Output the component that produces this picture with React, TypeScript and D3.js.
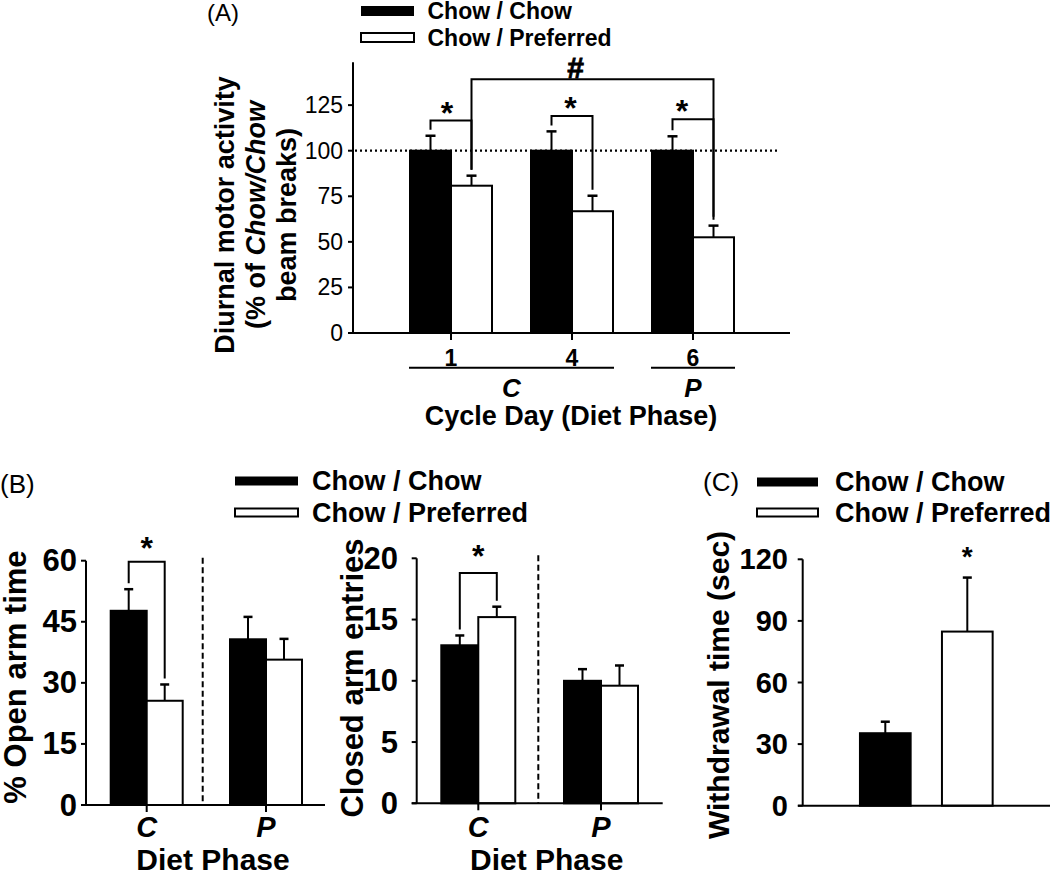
import React from "react";
import * as d3 from "d3";

const FONT = "'Liberation Sans', Arial, Helvetica, sans-serif";

const legendLabels = ["Chow / Chow", "Chow / Preferred"];

// Panel A: diurnal motor activity
const cycleDays = ["1", "4", "6"];
const aChowMean = [100, 100, 100];
const aChowSem = [8.2, 10.6, 7.9];
const aPrefMean = [80.8, 66.8, 52.5];
const aPrefSem = [5.5, 8.5, 6.4];
const aTicks = [0, 25, 50, 75, 100, 125];
const aPhases = [
  { label: "C", from: "1", to: "4" },
  { label: "P", from: "6", to: "6" },
];
// significance brackets (y in data units), star position fraction along bracket
const aBrackets = [
  { day: "1", y: 116.5, frac: 0.4 },
  { day: "4", y: 119, frac: 0.46 },
  { day: "6", y: 117.3, frac: 0.23 },
];
const aHash = { from: "1", to: "6", y: 139.2, frac: 0.43 };

// Panel B: elevated plus maze
const dietPhases = ["C", "P"];
const openChowMean = [47.7, 40.7];
const openChowSem = [5.3, 5.5];
const openPrefMean = [25.6, 35.7];
const openPrefSem = [4.0, 5.1];
const openTicks = [0, 15, 30, 45, 60];
const closedChowMean = [12.9, 10.0];
const closedChowSem = [0.8, 0.95];
const closedPrefMean = [15.2, 9.6];
const closedPrefSem = [0.85, 1.65];
const closedTicks = [0, 5, 10, 15, 20];

// Panel C: withdrawal time
const withdrawalMean = [35.3, 84.8];
const withdrawalSem = [5.6, 26.3];
const withdrawalTicks = [0, 30, 60, 90, 120];

type Scale = d3.ScaleLinear<number, number>;

function Bar({ x, w, v, sem, fill, y, cap }: { x: number; w: number; v: number; sem: number; fill: string; y: Scale; cap: number }) {
  const top = y(v);
  const errTop = y(v + sem);
  return (
    <g>
      <line x1={x + w / 2} x2={x + w / 2} y1={top} y2={errTop} stroke="#000" strokeWidth={2} />
      <line x1={x + w / 2 - cap / 2} x2={x + w / 2 + cap / 2} y1={errTop} y2={errTop} stroke="#000" strokeWidth={2.5} />
      <rect x={x} y={top} width={w} height={y(0) - top} fill={fill} stroke="#000" strokeWidth={2} />
    </g>
  );
}

function Star({ x, cy, size = 30, weight = "bold" }: { x: number; cy: number; size?: number; weight?: string }) {
  return (
    <text x={x} y={cy + 0.58 * size} textAnchor="middle" fontSize={size} fontWeight={weight} fontFamily={FONT}>
      *
    </text>
  );
}

function Legend({ x, y1, y2, w, h, tx, fs }: { x: number; y1: number; y2: number; w: number; h: number; tx: number; fs: number }) {
  return (
    <g>
      <rect x={x} y={y1 - h / 2} width={w} height={h} fill="#000" />
      <rect x={x} y={y2 - h / 2} width={w} height={h - 1} fill="#fff" stroke="#000" strokeWidth={2} />
      <text x={tx} y={y1} dominantBaseline="central" fontSize={fs} fontWeight="bold" fontFamily={FONT}>
        {legendLabels[0]}
      </text>
      <text x={tx} y={y2} dominantBaseline="central" fontSize={fs} fontWeight="bold" fontFamily={FONT}>
        {legendLabels[1]}
      </text>
    </g>
  );
}

function YAxis({ y, x, ticks, top, labelX, fs, weight }: { y: Scale; x: number; ticks: number[]; top: number; labelX: number; fs: number; weight: string }) {
  return (
    <g>
      <line x1={x} x2={x} y1={y(0)} y2={y(top)} stroke="#000" strokeWidth={2} />
      {ticks.map((t) => (
        <g key={t}>
          <line x1={x - 5} x2={x} y1={y(t)} y2={y(t)} stroke="#000" strokeWidth={2} />
          <text x={labelX} y={y(t)} textAnchor="end" dominantBaseline="central" fontSize={fs} fontWeight={weight} fontFamily={FONT}>
            {t}
          </text>
        </g>
      ))}
    </g>
  );
}

function PanelA() {
  const y = d3.scaleLinear().domain([0, 150]).range([333, 333 - 150 * 1.823]);
  const x = d3.scalePoint<string>().domain(cycleDays).range([451, 693]);
  const bw = 41;
  const axisX = 353;
  const gap = 6;
  return (
    <g>
      <text x={207} y={12} dominantBaseline="central" fontSize={24} fontFamily={FONT}>(A)</text>
      <Legend x={361} y1={11} y2={38} w={53} h={10} tx={427.5} fs={23} />
      {/* dotted reference */}
      <line x1={axisX + 2} x2={778} y1={y(100)} y2={y(100)} stroke="#000" strokeWidth={2.2} strokeDasharray="2 3" />
      {cycleDays.map((d, i) => (
        <g key={d}>
          <Bar x={x(d)! - bw} w={bw} v={aChowMean[i]} sem={aChowSem[i]} fill="#000" y={y} cap={10} />
          <Bar x={x(d)!} w={bw} v={aPrefMean[i]} sem={aPrefSem[i]} fill="#fff" y={y} cap={10} />
        </g>
      ))}
      <YAxis y={y} x={axisX} ticks={aTicks} top={148.5} labelX={343} fs={23} weight="normal" />
      <line x1={axisX - 5} x2={790} y1={y(0)} y2={y(0)} stroke="#000" strokeWidth={2} />
      {cycleDays.map((d) => (
        <g key={d}>
          <line x1={x(d)!} x2={x(d)!} y1={y(0)} y2={y(0) + 7} stroke="#000" strokeWidth={2} />
          <text x={x(d)!} y={358} textAnchor="middle" dominantBaseline="central" fontSize={23} fontWeight="bold" fontFamily={FONT}>
            {d}
          </text>
        </g>
      ))}
      {aPhases.map((p) => {
        const x1 = x(p.from)! - bw - 1;
        const x2 = x(p.to)! + bw + 1;
        return (
          <g key={p.label}>
            <line x1={x1} x2={x2} y1={367.7} y2={367.7} stroke="#000" strokeWidth={2} />
            <text x={(x1 + x2) / 2} y={388} textAnchor="middle" dominantBaseline="central" fontSize={26} fontWeight="bold" fontStyle="italic" fontFamily={FONT}>
              {p.label}
            </text>
          </g>
        );
      })}
      <text x={571} y={416} textAnchor="middle" dominantBaseline="central" fontSize={27} fontWeight="bold" fontFamily={FONT}>
        Cycle Day (Diet Phase)
      </text>
      {/* brackets */}
      {aBrackets.map((b) => {
        const i = cycleDays.indexOf(b.day);
        const lx = x(b.day)! - bw / 2;
        const rx = x(b.day)! + bw / 2;
        const by = y(b.y);
        return (
          <g key={b.day}>
            <path
              d={`M${lx},${y(aChowMean[i] + aChowSem[i]) - gap}V${by}H${rx}V${y(aPrefMean[i] + aPrefSem[i]) - gap}`}
              fill="none"
              stroke="#000"
              strokeWidth={2}
            />
            <Star x={lx + (rx - lx) * b.frac} cy={by - 15.5} size={32} />
          </g>
        );
      })}
      {(() => {
        const i1 = cycleDays.indexOf(aHash.from);
        const i2 = cycleDays.indexOf(aHash.to);
        const lx = x(aHash.from)! + bw / 2;
        const rx = x(aHash.to)! + bw / 2;
        const by = y(aHash.y);
        return (
          <g>
            <path
              d={`M${lx},${y(aPrefMean[i1] + aPrefSem[i1]) - gap}V${by}H${rx}V${y(aPrefMean[i2] + aPrefSem[i2]) - 9}`}
              fill="none"
              stroke="#000"
              strokeWidth={2}
            />
            <text
              x={lx + (rx - lx) * aHash.frac}
              y={by - 12 + 0.36 * 30}
              textAnchor="middle"
              fontSize={30}
              fontWeight="bold"
              fontFamily={FONT}
              stroke="#000"
              strokeWidth={0.8}
            >
              #
            </text>
          </g>
        );
      })()}
      {/* y title */}
      <g transform={`translate(0,215)`}>
        <text transform="translate(225,0) rotate(-90)" textAnchor="middle" dominantBaseline="central" fontSize={27} fontWeight="bold" fontFamily={FONT}>
          Diurnal motor activity
        </text>
        <text transform="translate(256,0) rotate(-90)" textAnchor="middle" dominantBaseline="central" fontSize={27} fontWeight="bold" fontFamily={FONT}>
          (% of <tspan fontStyle="italic">Chow/Chow</tspan>
        </text>
        <text transform="translate(287,0) rotate(-90)" textAnchor="middle" dominantBaseline="central" fontSize={27} fontWeight="bold" fontFamily={FONT}>
          beam breaks)
        </text>
      </g>
    </g>
  );
}

function PhaseChart({
  y, centers, bw, axisX, axisEnd, top, ticks, labelX, chowMean, chowSem, prefMean, prefSem, dashX, bracketY, starGap, title, titleX, titleY, xTitleX,
}: {
  y: Scale; centers: number[]; bw: number; axisX: number; axisEnd: number; top: number; ticks: number[]; labelX: number;
  chowMean: number[]; chowSem: number[]; prefMean: number[]; prefSem: number[]; dashX: number; bracketY: number; starGap: number;
  title: string; titleX: number; titleY: number; xTitleX: number;
}) {
  const x = d3.scaleOrdinal<string, number>().domain(dietPhases).range(centers);
  const lx = x("C") - bw / 2;
  const rx = x("C") + bw / 2;
  const by = y(bracketY);
  return (
    <g>
      <line x1={dashX} x2={dashX} y1={y(top) - 3} y2={y(0)} stroke="#000" strokeWidth={2} strokeDasharray="6 3.5" />
      {dietPhases.map((p, i) => (
        <g key={p}>
          <Bar x={x(p) - bw} w={bw} v={chowMean[i]} sem={chowSem[i]} fill="#000" y={y} cap={9} />
          <Bar x={x(p)} w={bw} v={prefMean[i]} sem={prefSem[i]} fill="#fff" y={y} cap={9} />
        </g>
      ))}
      <YAxis y={y} x={axisX} ticks={ticks} top={top} labelX={labelX} fs={31} weight="bold" />
      <line x1={axisX - 5} x2={axisEnd} y1={y(0)} y2={y(0)} stroke="#000" strokeWidth={2} />
      {dietPhases.map((p) => (
        <g key={p}>
          <line x1={x(p)} x2={x(p)} y1={y(0)} y2={y(0) + 7} stroke="#000" strokeWidth={2} />
          <text x={x(p)} y={827} textAnchor="middle" dominantBaseline="central" fontSize={29} fontWeight="bold" fontStyle="italic" fontFamily={FONT}>
            {p}
          </text>
        </g>
      ))}
      <text x={xTitleX} y={859} textAnchor="middle" dominantBaseline="central" fontSize={30} fontWeight="bold" fontFamily={FONT}>
        Diet Phase
      </text>
      <path
        d={`M${lx},${y(chowMean[0] + chowSem[0]) - 6}V${by}H${rx}V${y(prefMean[0] + prefSem[0]) - 6}`}
        fill="none"
        stroke="#000"
        strokeWidth={2}
      />
      <Star x={(lx + rx) / 2} cy={by - starGap} size={32} />
      <text transform={`translate(${titleX},${titleY}) rotate(-90)`} textAnchor="middle" dominantBaseline="central" fontSize={31} fontWeight="bold" fontFamily={FONT}>
        {title}
      </text>
    </g>
  );
}

function PanelB() {
  const yOpen = d3.scaleLinear().domain([0, 60]).range([805, 560.7]);
  const yClosed = d3.scaleLinear().domain([0, 20]).range([803.3, 558.3]);
  return (
    <g>
      <text x={0} y={484} dominantBaseline="central" fontSize={26} fontFamily={FONT}>(B)</text>
      <Legend x={235} y1={481} y2={513} w={63} h={9} tx={312} fs={27} />
      <PhaseChart
        y={yOpen} centers={[146.7, 266]} bw={36} axisX={86} axisEnd={325} top={60} ticks={openTicks} labelX={77}
        chowMean={openChowMean} chowSem={openChowSem} prefMean={openPrefMean} prefSem={openPrefSem}
        dashX={202.7} bracketY={59.75} starGap={21} title="% Open arm time" titleX={15} titleY={677} xTitleX={213}
      />
      <PhaseChart
        y={yClosed} centers={[478.3, 601]} bw={37} axisX={416.7} axisEnd={662.7} top={20} ticks={closedTicks} labelX={398}
        chowMean={closedChowMean} chowSem={closedChowSem} prefMean={closedPrefMean} prefSem={closedPrefSem}
        dashX={538.3} bracketY={18.8} starGap={25} title="Closed arm entries" titleX={352} titleY={678} xTitleX={546.7}
      />
    </g>
  );
}

function PanelC() {
  const y = d3.scaleLinear().domain([0, 120]).range([805.7, 559.3]);
  const x = d3.scalePoint<string>().domain(legendLabels).range([885.3, 967.3]);
  const bw = 50.7;
  const fills = ["#000", "#fff"];
  return (
    <g>
      <text x={703} y={482} dominantBaseline="central" fontSize={26} fontFamily={FONT}>(C)</text>
      <Legend x={757} y1={482} y2={513} w={61} h={9} tx={835} fs={27} />
      {legendLabels.map((l, i) => (
        <Bar key={l} x={x(l)! - bw / 2} w={bw} v={withdrawalMean[i]} sem={withdrawalSem[i]} fill={fills[i]} y={y} cap={9} />
      ))}
      <YAxis y={y} x={802.7} ticks={withdrawalTicks} top={120} labelX={788} fs={29} weight="bold" />
      <line x1={798} x2={1050} y1={y(0)} y2={y(0)} stroke="#000" strokeWidth={2} />
      <Star x={x(legendLabels[1])!} cy={550} size={28} weight="bold" />
      <text transform="translate(718,685) rotate(-90)" textAnchor="middle" dominantBaseline="central" fontSize={30} fontWeight="bold" fontFamily={FONT}>
        Withdrawal time (sec)
      </text>
    </g>
  );
}

export default function App() {
  return (
    <svg width={1050} height={873} style={{ position: "absolute", left: 0, top: 0, background: "#fff" }}>
      <rect width={1050} height={873} fill="#fff" />
      <PanelA />
      <PanelB />
      <PanelC />
    </svg>
  );
}
